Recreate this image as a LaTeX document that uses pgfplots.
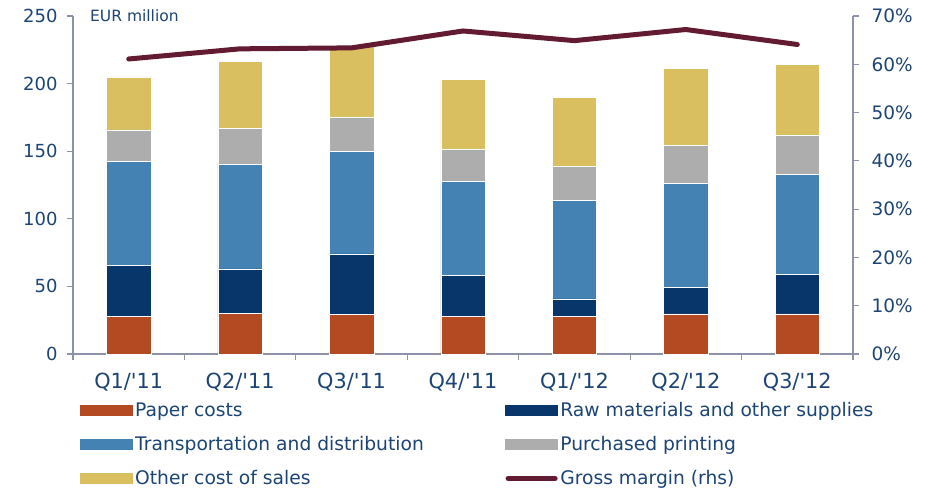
\documentclass[border=0pt]{standalone}
\usepackage{pgfplots}
\pgfplotsset{compat=1.18}
\usepackage{fontspec}
\setmainfont{DejaVu Sans}
\definecolor{paperc}{HTML}{B34A22}
\definecolor{rawc}{HTML}{08366A}
\definecolor{transc}{HTML}{4482B4}
\definecolor{printc}{HTML}{ADADAD}
\definecolor{otherc}{HTML}{D9BF5F}
\definecolor{marginc}{HTML}{621B30}
\definecolor{textc}{HTML}{1C4474}
\definecolor{axisc}{HTML}{8C93A8}
\begin{document}
\begin{tikzpicture}
\pgfplotsset{
  common/.style={
    width=780pt, height=338pt, scale only axis,
    xmin=-0.5, xmax=6.5,
    tick align=outside,
    axis line style={-, draw=axisc, line width=1.2pt},
    tick style={draw=axisc, line width=1.2pt},
    major tick length=6pt, minor tick length=6pt,
    /pgf/number format/assume math mode=true,
    tick label style={text=textc},
  },
  swatch/.style={legend image code/.code={\fill[#1] (0pt,-5pt) rectangle (52pt,5pt);}},
}
\begin{axis}[common,
  clip mode=individual,
  axis x line*=bottom, axis y line*=left,
  ymin=0, ymax=250, ytick={0,50,...,250},
  yticklabel style={font=\fontsize{18}{20}\selectfont, xshift=-6pt},
  xtick={0,...,6},
  xticklabels={Q1/\textquotesingle 11,Q2/\textquotesingle 11,Q3/\textquotesingle 11,Q4/\textquotesingle 11,Q1/\textquotesingle 12,Q2/\textquotesingle 12,Q3/\textquotesingle 12},
  xticklabel style={font=\fontsize{20.8}{24}\selectfont, yshift=-10pt},
  major x tick style={draw=none},
  minor xtick={-0.5,0.5,...,6.5},
  ybar stacked, bar width=44.4pt,
  legend columns=2,
  legend cell align=left,
  legend style={draw=none, fill=none, at={(0,0)}, anchor=north west,
    xshift=7pt, yshift=-46pt, font=\fontsize{18.7}{22}\selectfont, text=textc,
    row sep=14.5pt, inner sep=0pt,
    nodes={inner xsep=2.5pt},
    /tikz/every even column/.append style={column sep=79pt}},
]
\addplot[fill=paperc, draw=white, line width=0.5pt, swatch=paperc] coordinates {(0,28.1) (1,30.1) (2,29.3) (3,28.1) (4,28.1) (5,29.6) (6,29.6)};
\addplot[fill=rawc, draw=white, line width=0.5pt, swatch=rawc] coordinates {(0,37.2) (1,32.8) (2,44.7) (3,29.8) (4,12.6) (5,19.7) (6,29.1)};
\addplot[fill=transc, draw=white, line width=0.5pt, swatch=transc] coordinates {(0,77.0) (1,77.1) (2,75.7) (3,69.6) (4,72.7) (5,76.7) (6,74.2)};
\addplot[fill=printc, draw=white, line width=0.5pt, swatch=printc] coordinates {(0,23.4) (1,26.9) (2,25.3) (3,23.6) (4,25.2) (5,28.3) (6,28.6)};
\addplot[fill=otherc, draw=white, line width=0.5pt, swatch=otherc] coordinates {(0,39.2) (1,49.8) (2,52.3) (3,52.1) (4,51.0) (5,57.2) (6,52.5)};
\addlegendimage{legend image code/.code={\draw[marginc, line width=5pt, line cap=round] (2.5pt,0pt) -- (49.5pt,0pt);}}
\legend{Paper costs, Raw materials and other supplies, Transportation and distribution, Purchased printing, Other cost of sales, Gross margin (rhs)}
\node[anchor=west, text=textc, font=\fontsize{15.5}{18}\selectfont, inner sep=0pt] at (rel axis cs:0,1) [xshift=17pt] {EUR million};
\path (rel axis cs:0,0) ++(-73pt,-136pt) coordinate (bbsw);
\path (rel axis cs:1,1) ++(73pt,16pt) coordinate (bbne);
\end{axis}
\begin{axis}[common,
  axis y line*=right, axis x line=none,
  ymin=0, ymax=70, ytick={0,10,...,70},
  yticklabel={\pgfmathprintnumber{\tick}\%},
  yticklabel style={font=\fontsize{18.5}{20}\selectfont, xshift=9pt},
]
\addplot[marginc, line width=5pt, line cap=round, line join=round] coordinates {(0,61.1) (1,63.2) (2,63.4) (3,66.9) (4,64.9) (5,67.2) (6,64.1)};
\end{axis}
\path (bbsw) rectangle (bbne);
\end{tikzpicture}
\end{document}
